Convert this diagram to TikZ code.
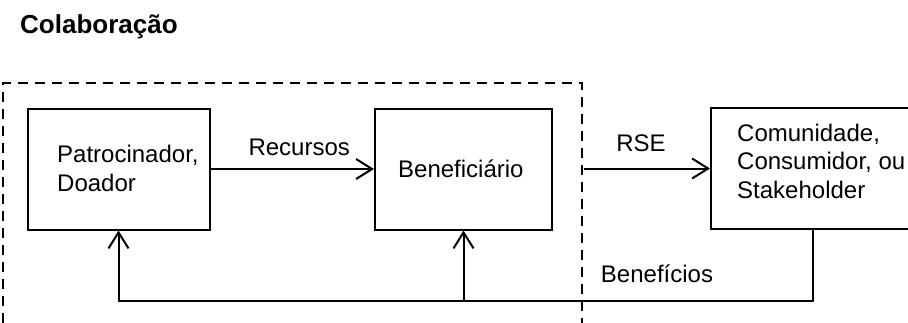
\documentclass[tikz,border=0pt]{standalone}
\usepackage{fontspec}
\setmainfont{Liberation Sans}
\usetikzlibrary{arrows.meta,positioning}

\begin{document}
\begin{tikzpicture}[x=1pt,y=-1pt,
  font=\fontsize{24pt}{29pt}\selectfont,
  caixa/.style={draw,line width=2pt,minimum width=#1,minimum height=121pt,inner sep=0pt},
  rotulo/.style={inner sep=0pt,align=left},
  seta/.style={line width=2pt,-{Straight Barb[length=16pt,width=20pt]}},
  moldura/.style={line width=2pt,dash pattern=on 10pt off 7pt}]
\clip (0,0) rectangle (908,322);
\node[rotulo,anchor=base west,font=\fontsize{26pt}{30pt}\selectfont\bfseries] (titulo) at (20,33) {Colaboração};
\draw[moldura] (3,340) |- (582,83) -- (582,340);
\node[caixa=182pt] (doador) at (118.5,169) {};
\node[caixa=177pt] (benef) at (463.5,169) {};
\node[caixa=204pt] (comunidade) at (813,168.5) {};
\node[rotulo,anchor=base west] (doadortxt) at (57,191) {Patrocinador,\\Doador};
\node[rotulo,anchor=base west] (beneftxt) at (398,177) {Beneficiário};
\node[rotulo,anchor=base west,font=\fontsize{24pt}{28.5pt}\selectfont] (comunidadetxt) at (737,198) {Comunidade,\\Consumidor, ou\\Stakeholder};
\coordinate (rse) at (584,168.5);
\coordinate (volta) at (813,301);
\draw[seta] (doador) -- node[rotulo,above=12pt,xshift=7pt] (recursos) {Recursos} (benef);
\draw[seta] (rse) -- node[rotulo,above=16pt,xshift=-6pt] (rsetxt) {RSE} (comunidade);
\draw[seta] (comunidade.south) -- (volta) -| (doador.south);
\draw[seta] (benef.south |- volta) -- (benef.south);
\node[rotulo,anchor=base] (beneficios) at (657,282.5) {Benefícios};
\end{tikzpicture}
\end{document}
